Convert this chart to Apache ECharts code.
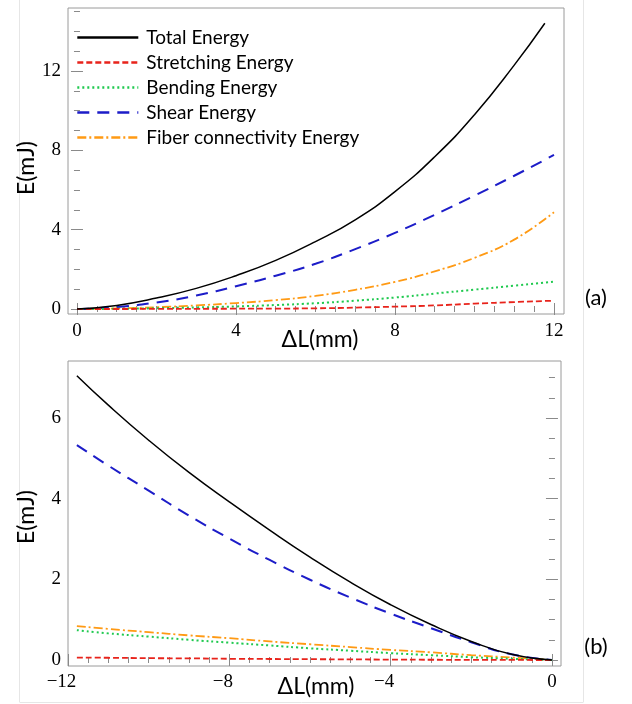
<!DOCTYPE html>
<html><head><meta charset="utf-8">
<script src="https://cdn.jsdelivr.net/npm/echarts@6/dist/echarts.min.js"></script>
<style>html,body{margin:0;padding:0;background:#fff}#c{width:632px;height:704px}</style>
</head><body><div id="c"></div>
<script>
// ---------- data ----------
const seriesNames = ['Total Energy','Stretching Energy','Bending Energy','Shear Energy','Fiber connectivity Energy'];

// (a) extension, ΔL in mm
const xA = [0,1,2,3,4,5,6,7,8,9,10,11,12];
const xATotal = [0,1,2,3,4,5,6,7,8,9,10,11,11.77];
const totalA      = [0,0.18,0.55,1.04,1.68,2.45,3.4,4.5,5.92,7.68,9.8,12.3,14.41];
const stretchingA = [0,0,0.005,0.01,0.015,0.02,0.035,0.07,0.12,0.18,0.27,0.35,0.42];
const bendingA    = [0,0.01,0.04,0.08,0.13,0.2,0.29,0.42,0.58,0.78,0.98,1.18,1.38];
const shearA      = [0,0.1,0.33,0.68,1.15,1.68,2.28,3.02,3.84,4.75,5.72,6.72,7.77];
const fiberA      = [0,0.03,0.09,0.18,0.3,0.45,0.66,0.97,1.37,1.9,2.58,3.5,4.88];

// (b) compression, ΔL in mm
const xB = [-11.78,-11,-10,-9,-8,-7,-6,-5,-4,-3,-2,-1,0];
const totalB      = [7.05,6.32,5.45,4.65,3.92,3.22,2.55,1.93,1.37,0.88,0.46,0.14,0];
const stretchingB = [0.06,0.055,0.045,0.04,0.03,0.025,0.02,0.015,0.01,0.006,0.003,0.001,0];
const bendingB    = [0.74,0.66,0.58,0.5,0.43,0.36,0.29,0.23,0.17,0.12,0.07,0.03,0];
const shearB      = [5.33,4.82,4.2,3.58,3.01,2.48,1.99,1.55,1.15,0.79,0.44,0.14,0];
const fiberB      = [0.84,0.77,0.69,0.61,0.54,0.46,0.39,0.32,0.25,0.19,0.12,0.06,0];

// tick labels
const xATicks = [0,4,8,12];
const yATicks = [0,4,8,12];
const xBTicks = [-12,-8,-4,0];
const yBTicks = [0,2,4,6];

// ---------- styles ----------
const colors = ['#000000','#e8231b','#1fc94f','#1c1cc8','#ff9a14'];
const dashes = ['solid',[6,3],[2,3],[12,8],[9,3,2,3]];
const widths = [1.5,1.8,2,2,1.8];

function range(a,b,s){const r=[];for(let v=a;v<=b+1e-9;v+=s)r.push(+v.toFixed(4));return r;}

const FRAME = '#9a9a9a';
const TICK = '#8a8a8a';
const labelFont = {fontFamily:'Liberation Serif', fontSize:19, color:'#000'};

function fmt(v){ return v<0 ? '{n|\u2212'+Math.abs(v)+'}' : String(v); }

function axis(kind, grid, pos, min, max, ticks, len, labels, margin){
  return {
    type:'value', gridIndex:grid, position:pos, min:min, max:max,
    axisLine:{show:false}, splitLine:{show:false},
    axisTick:{show:true, inside:true, length:len, customValues:ticks, lineStyle:{color:TICK,width:1}},
    axisLabel: labels ? Object.assign({show:true, customValues:ticks, margin:margin, formatter:fmt,
      rich:{n:{fontFamily:'Liberation Serif', fontSize:19, color:'#000', padding:[0,13,0,0]}}}, labelFont)
      : {show:false, customValues:ticks}
  };
}

const A = {left:68, top:8, width:496, height:306, xmin:-0.226, xmax:12.252, ymin:-0.252, ymax:15.18};
const B = {left:68, top:361, width:493, height:305, xmin:-12, xmax:0.224, ymin:-0.149, ymax:7.414};

const grids = [
  {left:A.left, top:A.top, width:A.width, height:A.height, show:true, borderColor:FRAME, borderWidth:1, backgroundColor:'transparent'},
  {left:A.left, top:A.top, width:A.width, height:A.height, show:false},
  {left:B.left, top:B.top, width:B.width, height:B.height, show:true, borderColor:FRAME, borderWidth:1, backgroundColor:'transparent'},
  {left:B.left, top:B.top, width:B.width, height:B.height, show:false}
];

const xAxes = [
  axis('x',0,'bottom',A.xmin,A.xmax,xATicks,6,true,8),
  axis('x',0,'top',A.xmin,A.xmax,xATicks,6,false),
  axis('x',1,'bottom',A.xmin,A.xmax,range(0,12,0.5),3,false),
  axis('x',1,'top',A.xmin,A.xmax,range(0,12,0.5),3,false),
  axis('x',2,'bottom',B.xmin,B.xmax,xBTicks,6,true,7),
  axis('x',2,'top',B.xmin,B.xmax,xBTicks,6,false),
  axis('x',3,'bottom',B.xmin,B.xmax,range(-12,0,0.5),3,false),
  axis('x',3,'top',B.xmin,B.xmax,range(-12,0,0.5),3,false)
];
const yAxes = [
  axis('y',0,'left',A.ymin,A.ymax,yATicks,6,true,7),
  axis('y',0,'right',A.ymin,A.ymax,yATicks,6,false),
  axis('y',1,'left',A.ymin,A.ymax,range(0,15,1),3,false),
  axis('y',1,'right',A.ymin,A.ymax,range(0,15,1),3,false),
  axis('y',2,'left',B.ymin,B.ymax,yBTicks,6,true,7),
  axis('y',2,'right',B.ymin,B.ymax,yBTicks,6,false),
  axis('y',3,'left',B.ymin,B.ymax,range(0,7,0.5),3,false),
  axis('y',3,'right',B.ymin,B.ymax,range(0,7,0.5),3,false)
];

function zip(xs,ys){return xs.map((x,i)=>[x,ys[i]]);}
function mk(i, xs, ys, ax){
  return {name:seriesNames[i], type:'line', xAxisIndex:ax, yAxisIndex:ax, data:zip(xs,ys),
    smooth:true, symbol:'none', silent:true, z:10-i,
    lineStyle:{color:colors[i], width:widths[i], type:dashes[i]}, itemStyle:{color:colors[i]}};
}
const series = [
  mk(0,xATotal,totalA,0), mk(1,xA,stretchingA,0), mk(2,xA,bendingA,0), mk(3,xA,shearA,0), mk(4,xA,fiberA,0),
  mk(0,xB,totalB,4), mk(1,xB,stretchingB,4), mk(2,xB,bendingB,4), mk(3,xB,shearB,4), mk(4,xB,fiberB,4)
];

const titleFont = '23px Lato';
const graphic = [
  {type:'line', shape:{x1:19.5,y1:0,x2:19.5,y2:702}, style:{stroke:'#e6e6e6',lineWidth:1}, silent:true},
  {type:'line', shape:{x1:583.5,y1:0,x2:583.5,y2:702}, style:{stroke:'#e6e6e6',lineWidth:1}, silent:true},
  {type:'line', shape:{x1:19.5,y1:702.5,x2:583.5,y2:702.5}, style:{stroke:'#e6e6e6',lineWidth:1}, silent:true},
  {type:'text', x:27, y:168, rotation:Math.PI/2, style:{text:'E(mJ)', font:titleFont, fill:'#000', textAlign:'center', textVerticalAlign:'middle', align:'center', verticalAlign:'middle'}},
  {type:'text', x:27, y:517, rotation:Math.PI/2, style:{text:'E(mJ)', font:titleFont, fill:'#000', textAlign:'center', textVerticalAlign:'middle', align:'center', verticalAlign:'middle'}},
  {type:'text', x:320, y:340, style:{text:'\u0394L(mm)', font:titleFont, fill:'#000', textAlign:'center', textVerticalAlign:'middle', align:'center', verticalAlign:'middle'}},
  {type:'text', x:316, y:687, style:{text:'\u0394L(mm)', font:titleFont, fill:'#000', textAlign:'center', textVerticalAlign:'middle', align:'center', verticalAlign:'middle'}},
  {type:'text', x:596, y:298, style:{text:'(a)', font:'22px Lato', fill:'#000', textAlign:'center', textVerticalAlign:'middle', align:'center', verticalAlign:'middle'}},
  {type:'text', x:596, y:647, style:{text:'(b)', font:'22px Lato', fill:'#000', textAlign:'center', textVerticalAlign:'middle', align:'center', verticalAlign:'middle'}}
];

const chart = echarts.init(document.getElementById('c'), null, {renderer:'canvas'});
chart.setOption({
  animation:false,
  backgroundColor:'#ffffff',
  grid:grids, xAxis:xAxes, yAxis:yAxes, series:series, graphic:graphic,
  legend:{
    data:seriesNames, orient:'vertical', left:76, top:28, padding:0,
    itemWidth:61, itemHeight:14, itemGap:6, selectedMode:false,
    itemStyle:{opacity:0},
    lineStyle:{width:2.6, opacity:1},
    textStyle:{fontFamily:'Lato', fontSize:19, lineHeight:19, color:'#000', padding:[0,0,0,3]}
  }
});
</script></body></html>
